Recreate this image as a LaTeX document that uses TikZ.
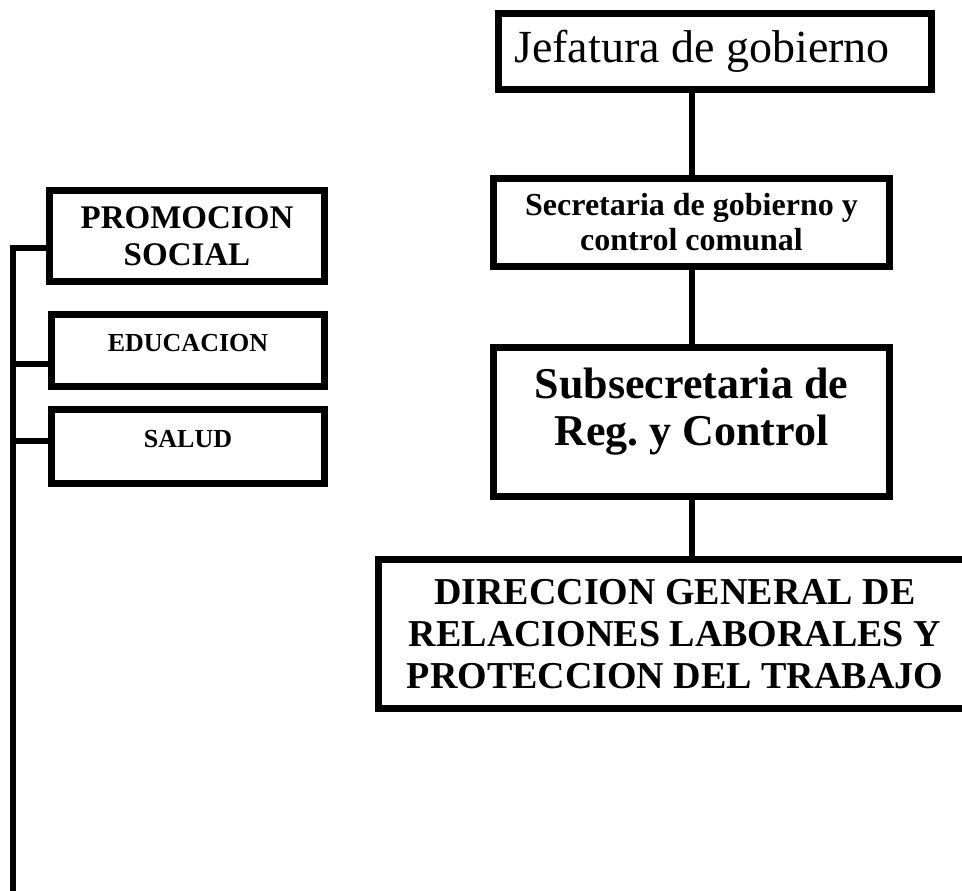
\documentclass[tikz,border=0pt]{standalone}
\usepackage{fontspec}
\setmainfont{Liberation Serif}
\usetikzlibrary{calc,positioning}

\begin{document}
\begin{tikzpicture}[
        x=1pt, y=-1pt,
        unitbox/.style={
            rectangle,
            draw=black,
            line width=7pt,
            fill=white,
            align=center,
            inner sep=0pt
        },
        link/.style={draw=black, line width=6pt}
    ]
        \useasboundingbox (0,0) rectangle (962,891);
        \clip (0,0) rectangle (962,891);

        \node[unitbox, minimum width=433, minimum height=76, font=\fontsize{46}{52}\selectfont] (jef) at (715,51.5) {Jefatura de gobierno\hspace{26pt}};
        \node[unitbox, minimum width=396, minimum height=88, font=\bfseries\fontsize{32}{35}\selectfont] (sec) at (691.5,222.5) {Secretaria de gobierno y\\control comunal};
        \node[unitbox, minimum width=396, minimum height=149, text depth=31pt, font=\bfseries\fontsize{44}{47}\selectfont] (sub) at (691.5,422) {Subsecretaria de\\Reg.\ y Control};
        \node[unitbox, minimum width=593, minimum height=149, font=\bfseries\fontsize{38}{42}\selectfont] (dir) at (675,634) {DIRECCION GENERAL DE\\RELACIONES LABORALES Y\\PROTECCION DEL TRABAJO};

        \node[unitbox, minimum width=275, minimum height=91, font=\bfseries\fontsize{33}{37}\selectfont] (promo) at (187,236) {PROMOCION\\SOCIAL};
        \node[unitbox, minimum width=273, minimum height=72, text depth=16pt, font=\bfseries\fontsize{26}{30}\selectfont] (edu) at (188,350.5) {EDUCACION};
        \node[unitbox, minimum width=273, minimum height=74, text depth=16pt, font=\bfseries\fontsize{26}{30}\selectfont] (salud) at (188,446.5) {SALUD};

        \draw[link] (sec.north) -- (sec.north |- jef.south);
        \draw[link] (sub.north) -- (sub.north |- sec.south);
        \draw[link] (sub.south) -- (sub.south |- dir.north);

        \coordinate (trunk) at (13,891);
        \coordinate (t1) at ($(promo.west)+(0,12)$);
        \coordinate (t2) at ($(edu.west)+(0,13.5)$);
        \coordinate (t3) at ($(salud.west)+(0,-5.5)$);
        \draw[link] (t1) -| (trunk);
        \draw[link] (t2) -- (t2 -| trunk);
        \draw[link] (t3) -- (t3 -| trunk);
    \end{tikzpicture}
\end{document}
